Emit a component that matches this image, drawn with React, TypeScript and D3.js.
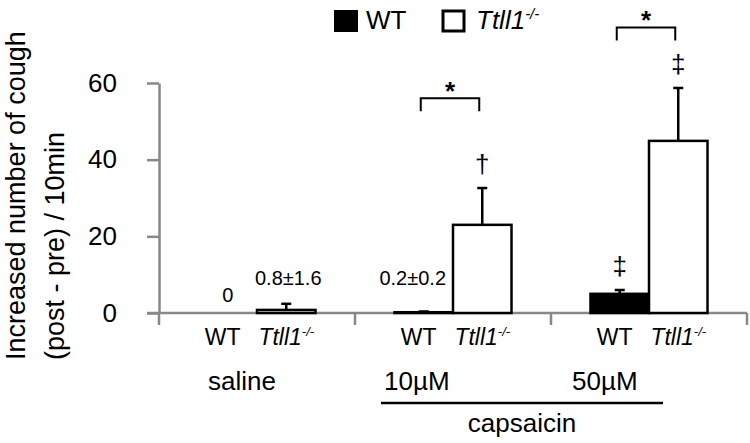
import React, { useEffect, useRef } from "react";
import * as d3 from "d3";

// treatment groups and genotypes
const groups = ["saline", "10µM", "50µM"];
const genotypes = ["WT", "Ttll1"];

// mean +/- SEM
const wtMeans = [0, 0.2, 5];
const wtErrors = [0, 0.2, 1];
const koMeans = [0.8, 23, 44.9];
const koErrors = [1.6, 9.6, 13.8];

const yTicks = [0, 20, 40, 60];

const valueLabels = [
  { group: "saline", geno: "WT", text: "0" },
  { group: "saline", geno: "Ttll1", text: "0.8±1.6" },
  { group: "10µM", geno: "WT", text: "0.2±0.2" }
];
const markers = [
  { group: "10µM", geno: "Ttll1", text: "†" },
  { group: "50µM", geno: "WT", text: "‡" },
  { group: "50µM", geno: "Ttll1", text: "‡" }
];
const brackets = [
  { group: "10µM", level: 56 },
  { group: "50µM", level: 74.5 }
];

// label placement tweaks (px)
const groupLabelDx = [49, 29, 21];
const valueLabelPos = [
  { dx: 0, dy: -11 },
  { dx: 2, dy: -28 },
  { dx: -11, dy: -28 }
];

const FONT = "'Liberation Sans', Arial, sans-serif";

export default function App() {
  const ref = useRef<SVGSVGElement>(null);

  useEffect(() => {
    const svg = d3.select(ref.current);
    svg.selectAll("*").remove();

    const x = d3.scaleBand().domain(groups).range([159, 747]);
    const xi = d3
      .scaleBand()
      .domain(genotypes)
      .range([0, x.bandwidth()])
      .paddingInner(0)
      .paddingOuter(0.675);
    const y = d3.scaleLinear().domain([0, 60]).range([313, 83]);

    const barX = (g, geno) => x(g) + xi(geno);
    const barC = (g, geno) => barX(g, geno) + xi.bandwidth() / 2;

    const rows = [];
    groups.forEach((g, i) => {
      rows.push({ group: g, geno: "WT", mean: wtMeans[i], err: wtErrors[i] });
      rows.push({ group: g, geno: "Ttll1", mean: koMeans[i], err: koErrors[i] });
    });

    // y axis
    const yAxis = svg
      .append("g")
      .attr("transform", "translate(159,0)")
      .call(d3.axisLeft(y).tickValues(yTicks).tickSize(12).tickSizeOuter(0).tickPadding(30));
    yAxis.select(".domain").attr("stroke", "#888").attr("stroke-width", 2.5);
    yAxis.selectAll(".tick line").attr("stroke", "#888").attr("stroke-width", 2.5);
    yAxis
      .selectAll(".tick text")
      .attr("font-family", FONT)
      .attr("font-size", 26)
      .attr("fill", "#000");

    // x axis with group separators
    svg
      .append("line")
      .attr("x1", 147)
      .attr("x2", x.range()[1])
      .attr("y1", y(0))
      .attr("y2", y(0))
      .attr("stroke", "#888")
      .attr("stroke-width", 2.5);
    const seps = groups.map((g) => x(g)).concat([x.range()[1]]);
    svg
      .selectAll(".sep")
      .data(seps)
      .enter()
      .append("line")
      .attr("x1", (d) => d)
      .attr("x2", (d) => d)
      .attr("y1", y(0))
      .attr("y2", y(0) + 12)
      .attr("stroke", "#888")
      .attr("stroke-width", 2.5);

    // bars
    svg
      .selectAll(".bar")
      .data(rows.filter((r) => r.mean > 0))
      .enter()
      .append("rect")
      .attr("x", (d) => barX(d.group, d.geno))
      .attr("y", (d) => y(d.mean))
      .attr("width", xi.bandwidth())
      .attr("height", (d) => y(0) - y(d.mean))
      .attr("fill", (d) => (d.geno === "WT" ? "#000" : "#fff"))
      .attr("stroke", "#000")
      .attr("stroke-width", 2.5);

    // error bars (upper only)
    const errs = svg
      .selectAll(".err")
      .data(rows.filter((r) => r.err > 0))
      .enter()
      .append("g");
    errs
      .append("line")
      .attr("x1", (d) => barC(d.group, d.geno))
      .attr("x2", (d) => barC(d.group, d.geno))
      .attr("y1", (d) => y(d.mean))
      .attr("y2", (d) => y(d.mean + d.err))
      .attr("stroke", "#000")
      .attr("stroke-width", 2.5);
    errs
      .append("line")
      .attr("x1", (d) => barC(d.group, d.geno) - 5)
      .attr("x2", (d) => barC(d.group, d.geno) + 5)
      .attr("y1", (d) => y(d.mean + d.err))
      .attr("y2", (d) => y(d.mean + d.err))
      .attr("stroke", "#000")
      .attr("stroke-width", 2.5);

    // value labels
    valueLabels.forEach((l, i) => {
      svg
        .append("text")
        .attr("x", barC(l.group, l.geno) + valueLabelPos[i].dx)
        .attr("y", y(0) + valueLabelPos[i].dy)
        .attr("text-anchor", "middle")
        .attr("font-family", FONT)
        .attr("font-size", 20)
        .text(l.text);
    });

    // significance markers
    markers.forEach((m) => {
      const r = rows.find((d) => d.group === m.group && d.geno === m.geno);
      svg
        .append("text")
        .attr("x", barC(m.group, m.geno))
        .attr("y", y(r.mean + r.err) - 15)
        .attr("text-anchor", "middle")
        .attr("font-family", FONT)
        .attr("font-size", 26)
        .text(m.text);
    });

    // brackets
    brackets.forEach((b) => {
      const x1 = barC(b.group, "WT") - 3;
      const x2 = barC(b.group, "Ttll1") - 3;
      const yy = y(b.level);
      svg
        .append("path")
        .attr("d", `M${x1},${yy + 13}V${yy}H${x2}V${yy + 13}`)
        .attr("fill", "none")
        .attr("stroke", "#000")
        .attr("stroke-width", 2);
      svg
        .append("text")
        .attr("x", (x1 + x2) / 2)
        .attr("y", yy + 2)
        .attr("text-anchor", "middle")
        .attr("font-family", FONT)
        .attr("font-weight", "bold")
        .attr("font-size", 26)
        .text("*");
    });

    // genotype labels under bars
    groups.forEach((g) => {
      svg
        .append("text")
        .attr("x", barC(g, "WT") - 5)
        .attr("y", 345)
        .attr("text-anchor", "middle")
        .attr("font-family", FONT)
        .attr("font-size", 23)
        .text("WT");
      const t = svg
        .append("text")
        .attr("x", barC(g, "Ttll1"))
        .attr("y", 345)
        .attr("text-anchor", "middle")
        .attr("font-family", FONT)
        .attr("font-size", 23);
      t.append("tspan").attr("font-style", "italic").text("Ttll1");
      t.append("tspan")
        .attr("font-style", "italic")
        .attr("font-size", 13)
        .attr("dy", -9)
        .text("-/-");
    });

    // group labels
    groups.forEach((g, i) => {
      svg
        .append("text")
        .attr("x", x(g) + groupLabelDx[i])
        .attr("y", 390)
        .attr("font-family", FONT)
        .attr("font-size", 26)
        .text(g);
    });

    // capsaicin underline
    const cx1 = x("10µM") + 26;
    const cx2 = x("50µM") + 112;
    svg
      .append("line")
      .attr("x1", cx1)
      .attr("x2", cx2)
      .attr("y1", 403)
      .attr("y2", 403)
      .attr("stroke", "#000")
      .attr("stroke-width", 2.5);
    svg
      .append("text")
      .attr("x", (cx1 + cx2) / 2)
      .attr("y", 432)
      .attr("text-anchor", "middle")
      .attr("font-family", FONT)
      .attr("font-size", 26)
      .text("capsaicin");

    // y title
    const titleLines = ["Increased number of cough", "(post - pre) / 10min"];
    titleLines.forEach((s, i) => {
      svg
        .append("text")
        .attr("transform", `translate(${25 + i * 39},360) rotate(-90)`)
        .attr("font-family", FONT)
        .attr("font-size", 27)
        .text(s);
    });

    // legend
    svg.append("rect").attr("x", 334).attr("y", 10).attr("width", 24).attr("height", 22).attr("fill", "#000");
    svg
      .append("text")
      .attr("x", 366)
      .attr("y", 29)
      .attr("font-family", FONT)
      .attr("font-size", 26)
      .text("WT");
    svg
      .append("rect")
      .attr("x", 443)
      .attr("y", 11)
      .attr("width", 21)
      .attr("height", 20)
      .attr("fill", "#fff")
      .attr("stroke", "#000")
      .attr("stroke-width", 3);
    const lt = svg
      .append("text")
      .attr("x", 476)
      .attr("y", 29)
      .attr("font-family", FONT)
      .attr("font-size", 26);
    lt.append("tspan").attr("font-style", "italic").text("Ttll1");
    lt.append("tspan").attr("font-style", "italic").attr("font-size", 15).attr("dy", -10).text("-/-");
  }, []);

  return (
    <svg
      ref={ref}
      width={750}
      height={443}
      style={{ position: "absolute", left: 0, top: 0, background: "#fff" }}
    />
  );
}
